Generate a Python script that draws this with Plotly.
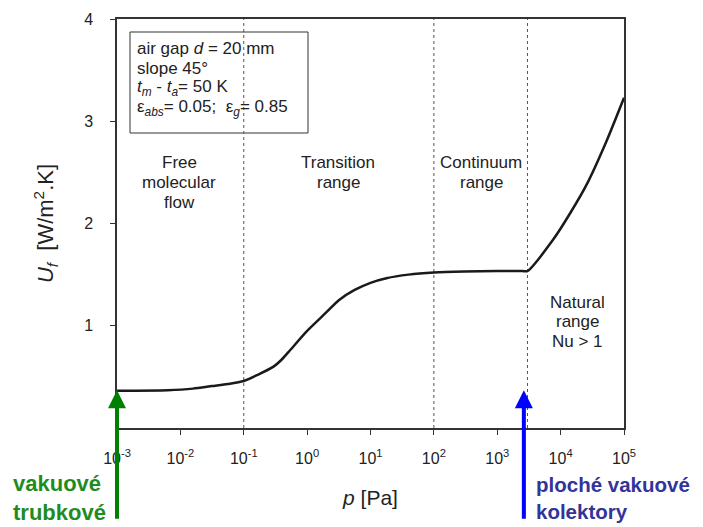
import math
import plotly.graph_objects as go

# Data
pressure_pa = [0.001, 0.0063, 0.0158, 0.0316, 0.056, 0.1, 0.166, 0.295, 0.398, 0.537,
               1.0, 2.0, 3.16, 5.62, 10, 17.8, 39.8, 100, 300, 1000, 2500, 3000,
               7586, 14125, 25700, 52480, 100000]
u_f = [0.365, 0.37, 0.385, 0.41, 0.43, 0.46, 0.52, 0.60, 0.67, 0.76,
       0.95, 1.13, 1.25, 1.35, 1.42, 1.465, 1.50, 1.52, 1.53, 1.535, 1.535, 1.535,
       1.84, 2.10, 2.38, 2.80, 3.23]

boundaries_pa = [0.1, 100, 3000]
x_tick_vals = [1e-3, 1e-2, 1e-1, 1e0, 1e1, 1e2, 1e3, 1e4, 1e5]
x_tick_text = ["10<sup>-3</sup>", "10<sup>-2</sup>", "10<sup>-1</sup>", "10<sup>0</sup>",
               "10<sup>1</sup>", "10<sup>2</sup>", "10<sup>3</sup>", "10<sup>4</sup>",
               "10<sup>5</sup>"]
y_tick_vals = [1, 2, 3, 4]

green_arrow_p = 0.001
blue_arrow_p = 2630
arrow_tip_u = 0.37

info_lines = [
    "air gap <i>d</i> = 20 mm",
    "slope 45°",
    "<i>t<sub>m</sub></i> - <i>t<sub>a</sub></i>= 50 K",
    "ε<sub><i>abs</i></sub>= 0.05;  ε<sub><i>g</i></sub>= 0.85",
]
region_labels = [
    (["Free", "molecular", "flow"], 179, 163),
    (["Transition", "range"], 338, 163),
    (["Continuum", "range"], 481, 163),
    (["Natural", "range", "Nu &gt; 1"], 577, 302),
]

FONT = "Arial, Liberation Sans, sans-serif"
TXT = "#222222"

# page body has an 8px offset; screen-space plot area: x 117..624, y 19..428
OFF = 8
W, H = 703 - OFF, 527 - OFF
SL, ST, SR, SB = 117, 19, 624, 428
pw = SR - SL
ph = SB - ST
L = SL - OFF
T = ST - OFF
R = W - L - pw
B = H - T - ph


def px(x):
    return (x - SL) / pw


def py(y):
    return (SB - y) / ph


fig = go.Figure()

for b in boundaries_pa:
    fig.add_trace(go.Scatter(x=[b, b], y=[0, 4], mode="lines",
                             line=dict(color="#555555", width=1, dash="dot"),
                             hoverinfo="skip", showlegend=False))

fig.add_trace(go.Scatter(x=pressure_pa, y=u_f, mode="lines",
                         line=dict(color="#1a1a1a", width=2.5, shape="spline", smoothing=0.7),
                         showlegend=False))

annotations = []
shapes = []

# info box
shapes.append(dict(type="rect", xref="paper", yref="paper",
                   x0=px(130), x1=px(308), y0=py(133), y1=py(32),
                   line=dict(color="#333333", width=1), fillcolor="white", layer="below"))
for i, line in enumerate(info_lines):
    annotations.append(dict(xref="paper", yref="paper", x=px(135), y=py(48 + 20 * i),
                            xanchor="left", yanchor="middle", text=line, showarrow=False,
                            font=dict(family=FONT, size=17, color=TXT)))

for lines, cx, cy in region_labels:
    for i, t in enumerate(lines):
        annotations.append(dict(xref="paper", yref="paper", x=px(cx), y=py(cy + 19.5 * i),
                                xanchor="center", yanchor="middle", text=t, showarrow=False,
                                font=dict(family=FONT, size=17, color=TXT)))

# arrows
for p_val, col in [(green_arrow_p, "#008000"), (blue_arrow_p, "#0000FF")]:
    annotations.append(dict(xref="x", yref="y", x=math.log10(p_val), y=arrow_tip_u, ax=0, ay=130,
                            axref="pixel", ayref="pixel", text="", showarrow=True,
                            arrowhead=2, arrowsize=0.9, arrowwidth=4, arrowcolor=col,
                            standoff=0, startstandoff=0))

annotations.append(dict(xref="paper", yref="paper", x=px(11), y=py(497.5),
                        xanchor="left", yanchor="middle", align="left",
                        text="<b>vakuové<br>trubkové</b>", showarrow=False,
                        font=dict(family=FONT, size=22, color="#1E8C1E")))
annotations.append(dict(xref="paper", yref="paper", x=px(534), y=py(497.5),
                        xanchor="left", yanchor="middle", align="left",
                        text="<b>ploché vakuové<br>kolektory</b>", showarrow=False,
                        font=dict(family=FONT, size=20.5, color="#333399")))

fig.update_layout(
    width=W, height=H,
    margin=dict(l=L, r=R, t=T, b=B, autoexpand=False),
    paper_bgcolor="white", plot_bgcolor="white",
    font=dict(family=FONT, color=TXT),
    annotations=annotations, shapes=shapes,
    xaxis=dict(type="log", range=[-3, 5], tickvals=x_tick_vals, ticktext=x_tick_text,
               ticks="outside", ticklen=5, tickwidth=1.2, tickcolor="#333333",
               ticklabelstandoff=10,
               showline=True, linecolor="#333333", linewidth=1.5, mirror=True,
               showgrid=False, zeroline=False,
               tickfont=dict(family=FONT, size=16, color=TXT),
               title=dict(text="<i>p</i> [Pa]", font=dict(family=FONT, size=21, color=TXT), standoff=24),
               automargin=False),
    yaxis=dict(range=[0, 4], tickvals=y_tick_vals,
               ticks="outside", ticklen=5, tickwidth=1.2, tickcolor="#333333",
               ticklabelstandoff=14,
               showline=True, linecolor="#333333", linewidth=1.5, mirror=True,
               showgrid=False, zeroline=False,
               tickfont=dict(family=FONT, size=16, color=TXT),
               title=dict(text="<i>U<sub>f</sub></i>  [W/m<sup>2</sup>.K]",
                          font=dict(family=FONT, size=22, color=TXT), standoff=24),
               automargin=False),
)

fig.write_html("out.html")
